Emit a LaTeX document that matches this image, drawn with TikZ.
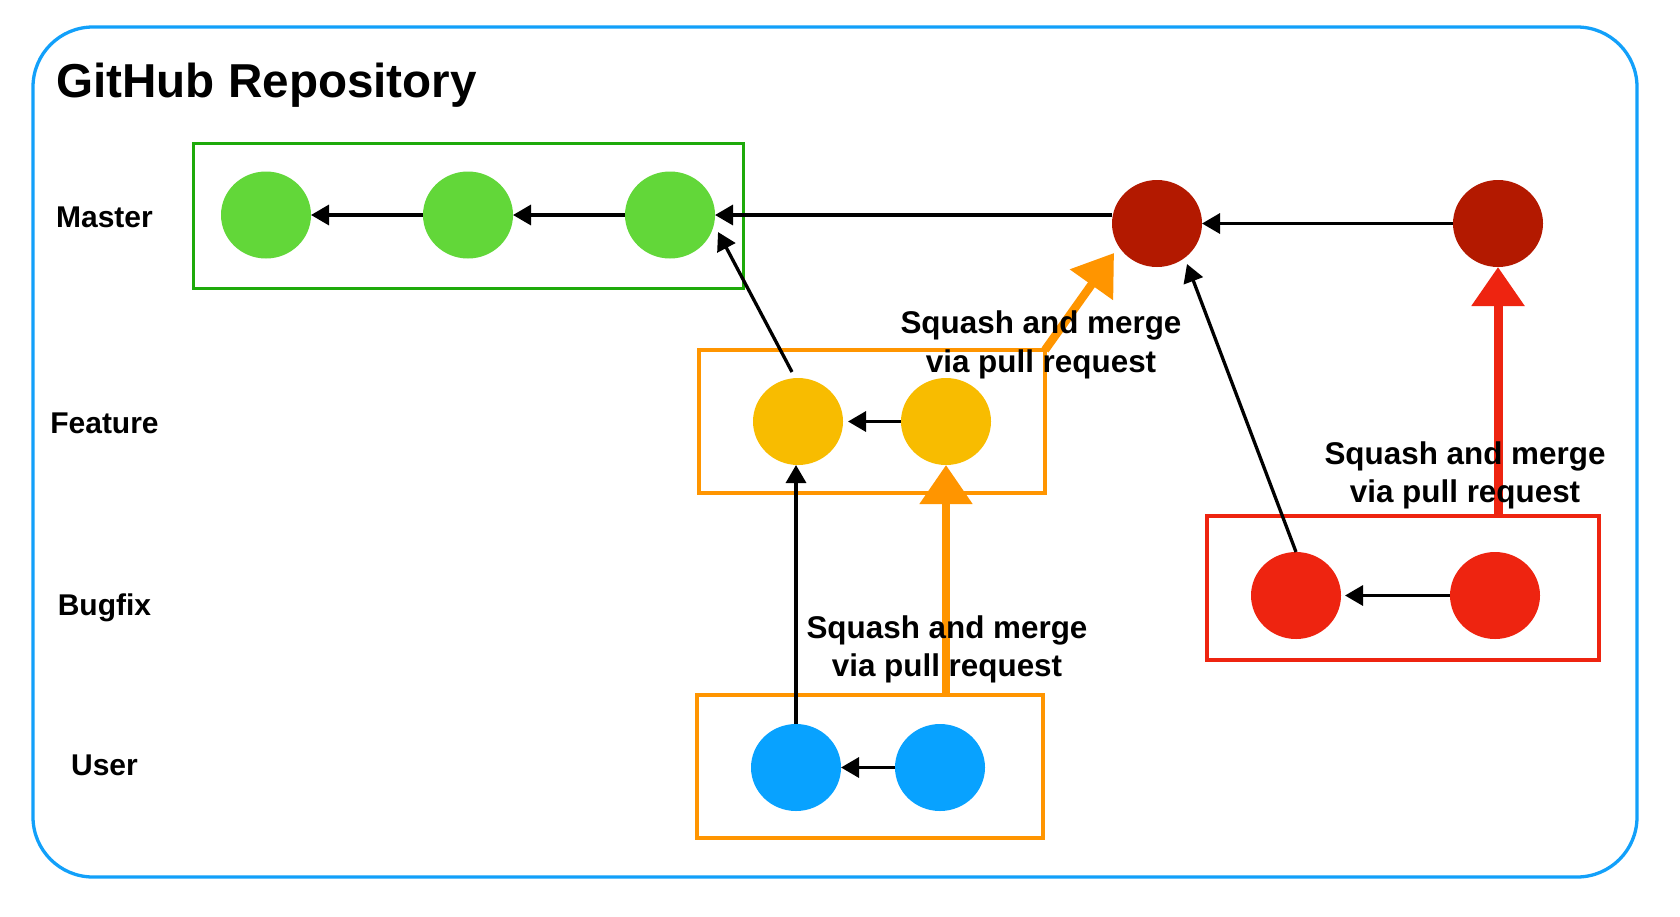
\documentclass[tikz,border=0pt]{standalone}
\usepackage{fontspec}
\setmainfont{Liberation Sans}
\usetikzlibrary{arrows.meta,shapes.geometric}
\definecolor{frameblue}{RGB}{18,160,250}
\definecolor{boxgreen}{RGB}{30,170,10}
\definecolor{commitgreen}{RGB}{98,215,57}
\definecolor{boxorange}{RGB}{255,149,0}
\definecolor{commityellow}{RGB}{248,188,0}
\definecolor{commitblue}{RGB}{8,162,255}
\definecolor{boxred}{RGB}{238,36,16}
\definecolor{commitdarkred}{RGB}{179,25,0}
\begin{document}
\begin{tikzpicture}[x=0.5pt,y=-0.5pt,
  commit/.style={ellipse,minimum width=45pt,minimum height=43.5pt,inner sep=0pt,outer sep=0pt},
  branchbox/.style={draw,line width=1.75pt,inner sep=0pt,outer sep=0pt},
  lane/.style={font=\bfseries\fontsize{15}{18}\selectfont,anchor=base},
  note/.style={font=\bfseries\fontsize{15.7}{19.25}\selectfont,align=center,inner sep=0pt},
  arr/.style={line width=1.65pt,-{Triangle[length=9pt,width=10pt]}},
  bigarr/.style={line width=4.2pt,-{Triangle[length=19.5pt,width=25.5pt]}},
]
\useasboundingbox (0,0) rectangle (1680,916);
\fill[white] (0,0) rectangle (1680,916);

% outer frame
\draw[frameblue,line width=1.65pt,rounded corners=30pt] (33,27) rectangle (1637,877);
\node[font=\bfseries\fontsize{23.8}{28}\selectfont,anchor=base west,inner sep=0pt] (title) at (56,97) {GitHub Repository};

% lane labels
\node[lane] (lmaster) at (104.5,227) {Master};
\node[lane] (lfeature) at (104.5,433) {Feature};
\node[lane] (lbugfix) at (104.5,615) {Bugfix};
\node[lane] (luser) at (104.5,775) {User};

% branch boxes
\node[branchbox,draw=boxgreen,minimum width=275pt,minimum height=72.5pt] (gbox) at (468.5,215.8) {};
\node[branchbox,draw=boxorange,minimum width=173pt,minimum height=71.5pt] (fbox) at (872,421.5) {};
\node[branchbox,draw=boxorange,minimum width=173pt,minimum height=71.5pt] (ubox) at (870,766.5) {};
\node[branchbox,draw=boxred,minimum width=196pt,minimum height=72pt] (rbox) at (1403,588) {};

% commits
\node[commit,fill=commitgreen] (m1) at (266,215) {};
\node[commit,fill=commitgreen] (m2) at (468,215) {};
\node[commit,fill=commitgreen] (m3) at (670,215) {};
\node[commit,fill=commitdarkred] (r1) at (1157,223.5) {};
\node[commit,fill=commitdarkred] (r2) at (1498,223.5) {};
\node[commit,fill=commityellow] (f1) at (798,421.5) {};
\node[commit,fill=commityellow] (f2) at (946,421.5) {};
\node[commit,fill=commitblue] (u1) at (796,767.5) {};
\node[commit,fill=commitblue] (u2) at (940,767.5) {};
\node[commit,fill=boxred] (b1) at (1296,595.5) {};
\node[commit,fill=boxred] (b2) at (1495,595.5) {};

% black connectors
\draw[arr] (m2) -- (m1);
\draw[arr] (m3) -- (m2);
\draw[arr] (r1.west |- m3.east) -- (m3.east);
\draw[arr] (r2) -- (r1);
\draw[arr] ([shift={(-6,-6)}]f1.north) -- ([shift={(3,17)}]m3.east);
\draw[arr,shorten >=2.5pt] (f2) -- (f1);
\draw[arr] (u1.north) -- (u1.north |- f1.south);
\draw[arr] (u2) -- (u1);
\draw[arr] (b1.north) -- ([shift={(30,-3)}]r1.south);
\draw[arr,shorten >=2pt] (b2) -- (b1);

% squash-and-merge connectors
\draw[bigarr,boxorange] (f2.south |- ubox.north) -- (f2.south);
\draw[bigarr,boxorange] (fbox.north east) -- ([shift={(2,29.5)}]r1.west);
\draw[bigarr,boxred,line width=4.5pt] (r2.south |- rbox.north) -- (r2.south);

% notes
\node[note] (n1) at (947,649.4) {Squash and merge\\via pull request};
\node[note] (n2) at (1041,344.9) {Squash and merge\\via pull request};
\node[note] (n3) at (1465,475.4) {Squash and merge\\via pull request};
\end{tikzpicture}
\end{document}
